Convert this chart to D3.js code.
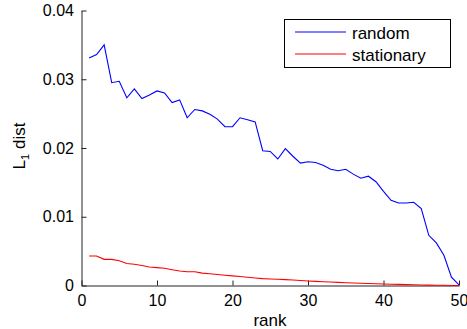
<!DOCTYPE html>
<html><head><meta charset="utf-8">
<script src="https://cdn.jsdelivr.net/npm/d3@7"></script>
<style>
body{margin:0;background:#fff;}
svg text{font-family:"Liberation Sans",Arial,Helvetica,sans-serif;}
</style></head>
<body><svg id="c" width="467" height="329"></svg>
<script>
const ranks = d3.range(1, 51);
const randomVals = [0.0331,0.0336,0.0350,0.0295,0.0297,0.0273,0.0286,0.0272,0.0277,0.0283,
0.0280,0.0266,0.0270,0.0244,0.0256,0.0254,0.0249,0.0242,0.0231,0.0231,
0.0244,0.0241,0.0238,0.0196,0.0195,0.0184,0.0199,0.0188,0.0178,0.0180,
0.0179,0.0175,0.0169,0.0167,0.0169,0.0162,0.0156,0.0159,0.0151,0.0137,
0.0124,0.0120,0.0120,0.0121,0.0112,0.0073,0.0062,0.0044,0.0012,0.0001];
const stationaryVals = [0.0043,0.0043,0.0038,0.0038,0.0036,0.0032,0.0031,0.0029,0.0027,0.0026,
0.0025,0.0023,0.0021,0.0020,0.0020,0.0018,0.0017,0.0016,0.0015,0.0014,
0.0013,0.0012,0.0011,0.0010,0.00095,0.0009,0.00085,0.0008,0.00072,0.00065,
0.0006,0.00055,0.0005,0.00045,0.0004,0.00036,0.00032,0.00028,0.00025,0.00022,
0.00019,0.00016,0.00013,0.0001,0.00008,0.00006,0.00004,0.00003,0.00001,0.0];
const xTicks = [0,10,20,30,40,50];
const yTicks = [0,0.01,0.02,0.03,0.04];
const seriesNames = ["random","stationary"];
const seriesColors = ["#0000ff","#ff0000"];

const svg = d3.select("#c");
const x = d3.scaleLinear().domain([0,50]).range([81.5,459]);
const y = d3.scaleLinear().domain([0,0.04]).range([285.5,10.5]);

const xAxis = d3.axisBottom(x).tickValues(xTicks).tickSizeInner(-5).tickSizeOuter(0).tickPadding(9.5).tickFormat(d3.format("d"));
const yAxis = d3.axisLeft(y).tickValues(yTicks).tickSizeInner(-5).tickSizeOuter(0).tickPadding(7.5).tickFormat(d=> d===0 ? "0" : d3.format(".2f")(d));

const gx = svg.append("g").attr("transform","translate(0,285.5)").call(xAxis);
const gy = svg.append("g").attr("transform","translate(81.5,0)").call(yAxis);
[gx,gy].forEach(g=>{
  g.selectAll("text").attr("font-size",16).attr("fill","#000").attr("font-family","Liberation Sans, Arial, sans-serif");
  g.selectAll("line,path").attr("stroke","#222");
});

const line = d3.line().x((d,i)=>x(ranks[i])).y(d=>y(d));
[randomVals, stationaryVals].forEach((vals,k)=>{
  svg.append("path").datum(vals).attr("d",line).attr("fill","none")
    .attr("stroke",seriesColors[k]).attr("stroke-width",1.1);
});

svg.append("text").attr("x",270).attr("y",325.5).attr("text-anchor","middle")
  .attr("font-size",17).text("rank");

const yl = svg.append("text").attr("transform","translate(24.5,146) rotate(-90)")
  .attr("text-anchor","middle").attr("font-size",17);
yl.append("tspan").text("L");
yl.append("tspan").attr("font-size",11).attr("dy",4).text("1");
yl.append("tspan").attr("dy",-4).text(" dist");

const lg = svg.append("g");
lg.append("rect").attr("x",284.5).attr("y",19.5).attr("width",166).attr("height",48)
  .attr("fill","#fff").attr("stroke","#000").attr("stroke-width",1);
seriesNames.forEach((n,k)=>{
  const yy = 32 + k*22;
  lg.append("line").attr("x1",295).attr("x2",346).attr("y1",yy).attr("y2",yy)
    .attr("stroke",seriesColors[k]).attr("stroke-width",1.1);
  lg.append("text").attr("x",352).attr("y",yy+6.5).attr("font-size",17).text(n);
});
</script></body></html>
